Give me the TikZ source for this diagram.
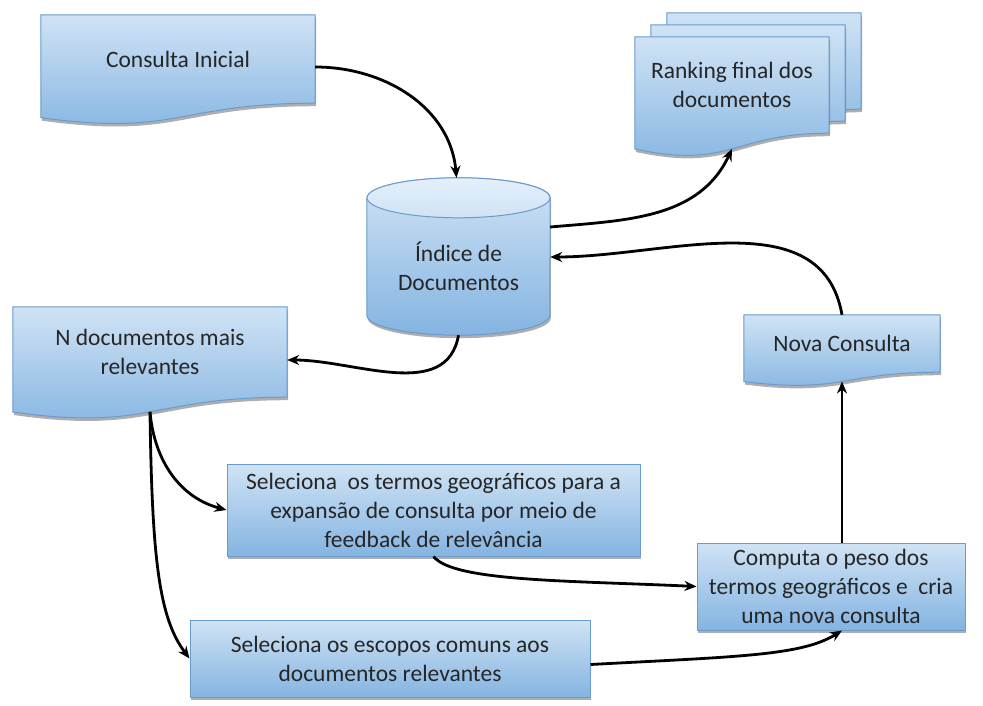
\documentclass[tikz,border=0pt]{standalone}
\usepackage{fontspec}
\setmainfont{Carlito}
\usetikzlibrary{calc,arrows.meta,backgrounds,shadows}

\definecolor{boxtop}{RGB}{208,227,245}
\definecolor{boxbot}{RGB}{132,180,225}
\definecolor{boxline}{RGB}{105,155,205}
\definecolor{cyltop}{RGB}{228,240,251}
\definecolor{txt}{RGB}{38,38,38}

% Document outline with a wavy bottom edge, drawn around a node.
% #1 node, #2 height of the straight part, #3/#4 offset, #5 path options
\newcommand\docshape[5]{%
  \path[#5] ($(#1.north west)+(#3,#4)$) -- ($(#1.north east)+(#3,#4)$)
    -- ($(#1.south east)+(#3,#4)$)
    .. controls ($(#1.south)+(#3,#4)$) and ($(#1.south)+(#3,#4-0.380*#2)$)
    .. ($(#1.south west)+(#3,#4-0.1646*#2)$) -- cycle;}

\tikzset{
  lbl/.style={font=\fontsize{23.5}{29}\selectfont, text=txt, align=center, inner sep=0pt},
  boxfill/.style={top color=boxtop, bottom color=boxbot, draw=boxline, line width=1pt},
  shade1/.style={drop shadow={shadow xshift=1pt, shadow yshift=-3pt, opacity=0.45, fill=black!70}},
  procbox/.style={lbl, boxfill, shade1},
  conn/.style={line width=2.8pt, -{Stealth[length=12pt,width=10pt]}},
}

\begin{document}
\begin{tikzpicture}[x=1pt, y=1pt]
\useasboundingbox (0,0) rectangle (983,-706);

% text-carrying nodes
\node[lbl, minimum width=274pt, minimum height=88pt] (ci) at (178,-59) {Consulta Inicial};
\node[lbl, minimum width=194pt, minimum height=96pt] (rank) at (732,-85) {Ranking final dos\\documentos};
\node[lbl, minimum width=183pt, minimum height=97pt] (idx) at (458.5,-266.5) {Índice de\\Documentos};
\node[lbl, minimum width=274pt, minimum height=90pt] (nd) at (150,-352) {N documentos mais\\relevantes};
\node[lbl, minimum width=196pt, minimum height=57pt] (nc) at (842,-343.5) {Nova Consulta};
\node[procbox, minimum width=413pt, minimum height=92pt] (termos) at (433.5,-510)
  {Seleciona~ os termos geográficos para a\\expansão de consulta por meio de\\feedback de relevância};
\node[procbox, minimum width=268pt, minimum height=87pt] (comp) at (831,-586.5)
  {Computa o peso dos\\termos geográficos e~ cria\\uma nova consulta};
\node[procbox, minimum width=400pt, minimum height=77pt] (esc) at (390,-658.5)
  {Seleciona os escopos comuns aos\\documentos relevantes};

% midpoints of the wavy bottom edges
\coordinate (nd-b) at ($(nd.south)+(0,-0.163*90)$);
\coordinate (nc-b) at ($(nc.south)+(0,-0.163*57)$);
\coordinate (rank-b) at ($(rank.south)+(0,-0.163*96)$);

\begin{pgfonlayer}{background}
  \docshape{ci}{88}{0}{0}{boxfill, shade1}
  \docshape{rank}{96}{32}{24}{boxfill, shade1}
  \docshape{rank}{96}{16}{12}{boxfill, shade1}
  \docshape{rank}{96}{0}{0}{boxfill, shade1}
  \docshape{nd}{90}{0}{0}{boxfill, shade1}
  \docshape{nc}{57}{0}{0}{boxfill, shade1}
  % cylinder body and lid
  \path[boxfill, shade1] ($(idx.north west)+(0,20)$) -- (idx.south west)
    arc[start angle=180, end angle=360, x radius=91.5pt, y radius=20pt]
    -- ($(idx.north east)+(0,20)$)
    arc[start angle=0, end angle=180, x radius=91.5pt, y radius=20pt] -- cycle;
  \path[draw=boxline, line width=1pt, top color=cyltop, bottom color=boxtop]
    ($(idx.north)+(0,20)$) ellipse[x radius=91.5pt, y radius=20pt];
\end{pgfonlayer}

% connectors
\draw[conn] ([yshift=-8pt]ci.east) to[out=0, in=95] ($(idx.north)+(-2,40)$);
\draw[conn] ([yshift=39.5pt]idx.east) to[out=5, in=-115] (rank-b);
\draw[conn] (nc.north) to[out=100, in=0] ([yshift=9.5pt]idx.east);
\draw[conn] ($(idx.south)+(0,-20)$) to[out=-100, in=0] ([yshift=-8pt]nd.east);
\draw[conn] (nd-b) to[out=-85, in=165] (termos.west);
\draw[conn] (nd-b) .. controls +(2,-150) and +(-30,40) .. (esc.west);
\draw[conn] (termos.south) .. controls +(20,-25) and +(-130,6) .. (comp.west);
\draw[conn] ([yshift=-6pt]esc.east) .. controls +(150,8) and +(-40,-25) .. ([xshift=11pt]comp.south);
\draw[conn] ([xshift=11pt]comp.north) -- (nc-b);
\end{tikzpicture}
\end{document}
